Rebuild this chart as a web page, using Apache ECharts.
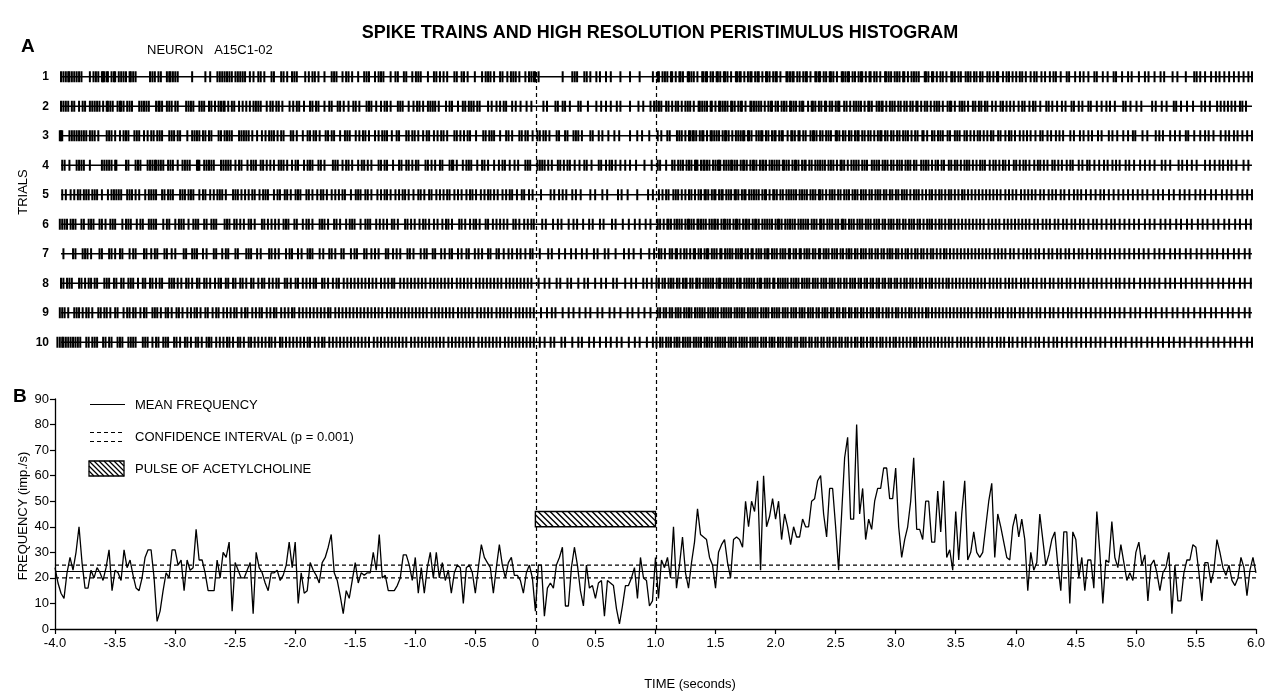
<!DOCTYPE html>
<html><head><meta charset="utf-8">
<script src="https://cdn.jsdelivr.net/npm/echarts/dist/echarts.min.js"></script>
<style>html,body{margin:0;padding:0;background:#fff}#c{width:1268px;height:692px}</style>
</head><body><div id="c"></div>
<script>
const FONT = "'Liberation Sans', Arial, Helvetica, sans-serif";

// ---- Panel A: spike trains (spike times in centiseconds) ----
const trialLabels = ['1','2','3','4','5','6','7','8','9','10'];
const rowLineRange = [-3.95, 5.95];

const trial1 = [-395,-393,-391,-389,-388,-386,-384,-382,-380,-378,-371,-368,-366,-364,-361,-360,-359,-357,-356,-353,-351,-350,-347,-345,-343,-341,-338,-337,-335,-333,-321,-319,-317,-314,-312,-307,-305,-304,-302,-300,-298,-286,-275,-271,-265,-263,-261,-259,-257,-255,-253,-250,-248,-246,-244,-242,-238,-235,-231,-229,-226,-220,-218,-212,-210,-207,-203,-201,-199,-192,-189,-186,-184,-181,-176,-170,-168,-166,-161,-158,-156,-153,-148,-143,-141,-139,-134,-131,-129,-127,-121,-117,-115,-110,-108,-103,-100,-98,-96,-90,-85,-83,-80,-77,-74,-68,-66,-62,-60,-57,-51,-45,-42,-40,-38,-35,-30,-28,-24,-21,-19,-17,-14,-9,-6,-4,-2,-1,
2,22,30,32,34,40,42,45,50,53,58,62,70,78,86,97,
101,102,105,107,109,112,113,116,119,120,122,126,127,129,131,134,138,139,141,142,145,147,150,151,153,156,157,159,162,166,167,169,170,173,176,178,179,182,184,185,188,191,192,194,197,199,200,203,208,209,211,213,214,217,219,222,224,225,228,232,233,235,236,239,241,244,245,247,250,254,255,257,259,260,263,265,268,270,271,274,277,278,281,283,286,290,291,293,295,298,300,302,305,306,309,312,314,316,318,323,324,326,329,330,333,336,338,341,345,346,348,351,353,357,359,361,364,366,369,371,375,377,380,383,384,388,391,393,396,399,
402,404,407,411,414,416,420,423,427,430,432,436,441,443,448,452,455,459,464,466,471,475,480,482,487,492,495,501,506,509,514,519,522,529,533,540,547,549,552,556,561,565,568,572,576,580,584,588,592,595];
const trial2 = [-395,-393,-391,-389,-386,-384,-380,-377,-375,-371,-369,-367,-365,-363,-360,-357,-356,-354,-352,-348,-346,-345,-343,-340,-338,-336,-330,-328,-326,-324,-322,-316,-314,-313,-311,-307,-305,-303,-300,-298,-291,-289,-287,-285,-280,-278,-276,-272,-270,-267,-264,-262,-260,-259,-256,-253,-251,-247,-244,-241,-238,-235,-233,-231,-229,-224,-221,-219,-216,-214,-211,-205,-202,-199,-197,-193,-188,-186,-183,-181,-176,-172,-170,-165,-163,-160,-156,-152,-150,-147,-141,-139,-137,-133,-129,-126,-124,-121,-115,-113,-111,-106,-102,-99,-97,-94,-90,-88,-86,-84,-81,-75,-72,-70,-65,-61,-59,-56,-54,-52,-49,-47,-40,-37,-33,-30,-27,-25,-20,-17,-13,-8,-4,
6,9,16,18,22,24,28,35,37,43,50,54,58,62,67,70,78,85,89,95,98,
100,102,104,108,110,113,116,118,121,124,126,128,131,135,136,138,140,142,145,146,149,152,153,155,157,159,162,163,165,168,170,171,174,178,179,181,183,185,187,190,193,195,196,199,201,204,206,208,211,212,214,216,219,221,222,226,229,230,232,235,237,240,241,244,246,249,251,252,256,258,261,264,266,268,270,273,276,277,279,283,285,287,288,291,294,296,298,301,303,306,308,311,313,316,317,320,323,325,328,331,333,335,338,342,344,345,348,352,354,356,359,363,365,368,370,373,375,379,382,386,388,391,394,397,
401,404,406,410,413,415,419,424,426,429,433,437,440,445,447,451,454,459,461,466,470,474,477,481,488,490,494,499,503,512,515,520,524,530,532,536,541,546,553,556,560,566,569,572,575,578,581,585,587,590];
const trial3 = [-396,-395,-394,-388,-386,-384,-382,-380,-378,-376,-374,-371,-369,-367,-364,-357,-355,-353,-350,-346,-343,-341,-339,-334,-332,-330,-326,-323,-320,-318,-315,-313,-311,-305,-303,-301,-298,-296,-290,-286,-284,-282,-280,-277,-275,-272,-270,-264,-262,-259,-257,-255,-253,-247,-245,-243,-241,-239,-236,-232,-228,-225,-222,-220,-218,-215,-212,-210,-204,-202,-199,-194,-190,-188,-185,-183,-180,-175,-173,-170,-168,-163,-159,-157,-155,-150,-147,-144,-142,-139,-134,-131,-128,-126,-124,-120,-116,-114,-108,-106,-103,-101,-98,-94,-91,-89,-85,-82,-79,-77,-74,-68,-66,-63,-60,-57,-55,-50,-44,-42,-39,-37,-35,-30,-25,-23,-20,-14,-12,-9,-7,-3,
1,3,6,8,11,17,19,24,26,31,33,35,38,45,47,52,55,60,65,69,78,84,88,94,
101,104,109,111,117,119,121,124,127,128,130,131,133,136,138,139,142,145,146,148,150,152,155,157,158,160,163,166,168,170,172,173,176,177,179,183,185,187,188,191,193,196,198,199,202,204,205,209,212,213,215,218,219,222,224,228,230,231,233,236,238,241,243,245,249,250,252,255,257,260,262,265,267,268,271,273,276,278,281,284,286,287,290,292,295,297,300,302,305,307,309,312,315,317,321,322,325,329,331,334,336,338,342,344,348,350,352,356,358,361,364,367,369,372,375,378,380,384,386,390,393,395,398,
402,405,408,411,415,419,421,425,428,432,435,438,444,447,452,455,459,462,467,470,476,479,483,488,492,496,498,504,508,515,518,521,527,531,535,540,542,547,552,556,559,563,569,573,576,580,583,587,591,595];
const trial4 = [-394,-392,-388,-382,-380,-378,-376,-371,-361,-359,-357,-355,-353,-350,-349,-341,-339,-333,-331,-329,-323,-321,-319,-317,-316,-314,-312,-310,-306,-304,-302,-298,-294,-292,-290,-288,-282,-281,-280,-276,-274,-272,-270,-268,-262,-260,-258,-256,-254,-250,-247,-245,-240,-237,-235,-233,-229,-227,-224,-221,-218,-214,-212,-210,-207,-203,-200,-198,-193,-190,-188,-186,-181,-179,-176,-169,-167,-165,-161,-158,-156,-153,-148,-145,-143,-140,-137,-131,-129,-126,-124,-119,-114,-112,-108,-106,-103,-100,-98,-92,-90,-87,-84,-80,-78,-72,-70,-69,-66,-61,-58,-56,-54,-49,-45,-43,-40,-35,-31,-28,-26,-22,-18,-15,-9,-7,-5,
1,3,5,7,10,13,18,20,23,26,28,32,36,40,42,46,52,54,58,61,63,66,70,74,78,83,90,96,
101,103,108,113,115,118,120,122,125,127,129,132,133,134,137,139,140,142,144,147,149,151,152,153,156,158,160,162,163,165,167,170,172,173,175,178,180,181,183,186,188,189,191,194,196,198,200,202,205,206,208,210,213,215,216,218,221,223,224,227,229,232,234,236,238,240,243,245,247,250,253,254,256,259,262,264,266,268,271,273,275,279,281,283,285,288,290,292,295,297,300,302,304,307,309,311,314,316,320,322,324,326,329,332,334,337,339,343,345,348,350,353,356,358,360,363,366,369,371,373,377,380,382,385,388,390,393,397,399,
402,405,407,410,414,417,419,422,425,429,431,434,437,441,444,446,451,454,458,460,464,468,472,475,479,482,485,490,493,497,502,506,510,514,520,523,527,534,537,541,545,549,556,560,564,568,571,575,578,582,588,592];
const trial5 = [-394,-391,-387,-384,-381,-379,-376,-374,-372,-369,-367,-365,-361,-356,-353,-351,-349,-347,-345,-340,-338,-336,-333,-330,-325,-322,-320,-318,-316,-311,-309,-306,-304,-302,-296,-294,-292,-289,-287,-285,-280,-277,-275,-271,-268,-265,-263,-261,-258,-252,-250,-248,-245,-242,-239,-236,-234,-230,-227,-225,-223,-218,-215,-213,-209,-207,-204,-200,-198,-196,-191,-189,-186,-182,-179,-177,-174,-170,-167,-164,-161,-159,-154,-150,-148,-146,-142,-140,-137,-132,-129,-126,-124,-121,-117,-114,-111,-109,-106,-102,-98,-96,-93,-89,-87,-83,-80,-77,-74,-72,-68,-65,-62,-58,-55,-53,-50,-46,-43,-40,-38,-35,-32,-28,-25,-22,-20,-16,-12,-10,-6,-3,
4,12,15,19,22,25,30,33,37,45,49,55,59,68,71,76,84,93,97,
102,105,108,110,114,116,118,121,124,127,129,132,135,137,140,141,143,146,148,149,152,154,155,158,160,162,165,166,168,171,173,174,177,179,181,183,185,188,190,191,194,197,198,200,203,205,208,210,212,214,216,219,221,223,225,228,230,232,235,236,238,241,244,246,248,251,253,256,258,260,263,265,267,270,272,274,277,279,282,284,286,289,291,294,296,299,301,304,306,308,311,314,316,318,321,324,327,329,332,335,337,340,343,345,348,351,354,356,359,362,365,368,371,374,377,380,383,386,390,393,396,399,
403,406,409,412,415,419,422,426,429,432,436,439,443,447,450,453,457,461,465,469,472,476,480,484,488,492,496,500,504,508,513,517,521,526,530,535,539,543,548,552,556,561,565,570,574,578,583,587,591,595];
const trial6 = [-396,-394,-392,-390,-387,-385,-383,-378,-376,-372,-370,-368,-363,-361,-358,-354,-352,-350,-344,-341,-339,-337,-332,-329,-327,-322,-320,-318,-316,-310,-307,-305,-300,-297,-295,-293,-289,-285,-283,-281,-276,-274,-270,-268,-266,-259,-257,-255,-251,-249,-246,-243,-239,-237,-234,-228,-226,-223,-220,-217,-214,-210,-208,-206,-201,-199,-194,-191,-189,-186,-180,-178,-176,-173,-168,-166,-163,-158,-155,-153,-151,-146,-142,-140,-138,-133,-130,-127,-124,-120,-118,-115,-109,-107,-104,-101,-97,-94,-92,-89,-85,-82,-78,-75,-73,-70,-64,-62,-59,-55,-52,-50,-47,-42,-40,-36,-33,-30,-27,-24,-19,-17,-14,-10,-7,-4,-2,
5,8,14,18,21,27,31,34,39,44,47,53,56,63,66,72,77,82,86,91,95,
101,103,106,109,110,112,115,117,119,121,124,126,127,129,131,134,135,137,139,141,144,146,148,149,151,154,156,157,159,161,164,166,167,169,172,174,175,177,180,182,183,185,188,190,192,194,196,199,201,202,204,207,209,211,213,215,218,220,222,224,226,229,231,233,236,237,239,242,244,246,249,251,254,255,257,260,262,264,267,269,271,274,276,278,281,283,285,288,290,293,295,297,300,302,305,307,310,312,314,317,319,322,325,327,329,332,335,337,340,343,345,348,351,354,357,360,363,366,369,372,376,379,382,385,389,392,395,398,
401,404,407,410,414,417,421,424,427,431,434,438,441,445,448,452,455,459,463,466,470,474,478,481,485,489,493,497,501,506,510,514,519,523,527,532,536,541,545,550,554,558,563,567,572,576,581,585,590,594];
const trial7 = [-393,-385,-383,-377,-375,-373,-370,-363,-361,-355,-353,-350,-346,-344,-338,-335,-333,-326,-324,-320,-317,-315,-309,-307,-303,-300,-293,-291,-286,-284,-282,-277,-274,-268,-266,-261,-258,-256,-250,-248,-241,-239,-237,-232,-229,-222,-220,-217,-214,-208,-205,-203,-198,-195,-190,-188,-186,-180,-177,-172,-170,-167,-162,-160,-154,-151,-149,-143,-141,-137,-134,-131,-125,-123,-119,-116,-113,-107,-105,-102,-96,-93,-91,-86,-84,-79,-76,-72,-70,-65,-62,-58,-56,-51,-48,-45,-40,-38,-33,-31,-27,-23,-20,-16,-13,-9,-5,-3,
3,10,13,19,24,29,33,38,42,48,51,57,60,66,73,77,81,87,94,98,
102,104,107,111,113,116,117,120,123,125,128,131,132,135,137,140,142,143,146,148,150,153,154,157,159,161,163,166,168,170,171,174,176,179,180,183,185,187,190,192,193,196,198,200,203,205,207,210,211,214,216,219,220,223,225,227,230,232,235,236,239,241,243,246,248,250,253,255,258,260,262,265,267,270,272,274,277,279,282,284,287,289,292,294,296,299,301,304,307,309,312,315,317,320,322,325,328,330,333,336,339,341,344,347,350,353,356,359,362,365,368,371,374,377,381,384,387,390,394,397,
401,405,408,411,415,418,422,426,429,433,436,440,443,447,451,454,458,462,466,469,473,477,481,485,489,493,497,501,505,509,514,518,522,527,531,535,540,544,549,553,558,562,566,571,575,580,584,589,593];
const trial8 = [-395,-393,-390,-388,-386,-380,-378,-375,-372,-370,-367,-365,-359,-357,-355,-351,-349,-345,-343,-339,-337,-335,-331,-327,-325,-321,-319,-316,-313,-311,-305,-303,-301,-298,-295,-291,-289,-286,-282,-280,-276,-274,-271,-267,-264,-262,-258,-256,-252,-250,-246,-244,-241,-237,-235,-231,-228,-226,-222,-219,-216,-214,-209,-207,-204,-200,-198,-194,-191,-188,-185,-183,-178,-176,-173,-169,-166,-164,-160,-157,-154,-151,-148,-145,-142,-139,-136,-133,-129,-126,-123,-120,-118,-113,-110,-107,-104,-101,-98,-95,-92,-88,-85,-82,-79,-76,-73,-70,-66,-63,-60,-57,-54,-50,-47,-44,-41,-38,-35,-32,-29,-25,-22,-19,-16,-13,-10,-7,-4,
2,7,11,17,20,26,29,35,40,43,49,54,58,64,67,74,79,83,89,92,96,
100,102,105,107,110,112,114,117,119,122,124,125,128,130,133,134,136,139,141,143,145,147,150,152,153,156,158,160,162,164,167,169,170,173,175,177,179,181,184,186,187,190,192,194,197,198,201,203,205,207,209,212,214,216,218,221,223,225,227,230,232,234,237,239,241,244,246,248,251,253,256,258,261,263,265,268,270,273,275,278,280,283,285,288,290,293,295,298,300,303,306,308,311,313,316,319,321,324,327,329,332,335,338,341,343,346,349,352,355,358,361,364,367,370,373,377,380,383,386,390,393,396,399,
403,406,409,413,416,420,423,427,430,434,437,441,444,448,452,455,459,463,466,470,474,478,482,485,489,493,497,502,506,510,514,518,523,527,531,536,540,545,549,553,558,562,567,571,576,580,585,589,594];
const trial9 = [-396,-394,-392,-389,-384,-382,-380,-377,-374,-372,-369,-364,-362,-359,-357,-354,-350,-348,-343,-340,-338,-335,-333,-329,-326,-324,-319,-317,-315,-312,-308,-306,-303,-299,-297,-294,-290,-287,-284,-282,-279,-275,-273,-269,-266,-264,-260,-257,-254,-251,-249,-245,-242,-240,-236,-233,-230,-228,-224,-221,-218,-216,-212,-209,-206,-203,-201,-197,-194,-191,-188,-185,-182,-179,-176,-173,-171,-167,-164,-161,-158,-155,-152,-149,-146,-143,-140,-137,-134,-131,-128,-124,-121,-118,-115,-112,-109,-106,-103,-100,-97,-94,-91,-87,-84,-81,-78,-75,-72,-69,-65,-62,-59,-56,-53,-49,-46,-43,-40,-37,-33,-30,-27,-24,-21,-17,-14,-11,-8,-5,-2,
4,9,13,16,22,27,31,36,41,45,51,55,61,65,70,76,80,85,90,95,
101,103,106,108,111,113,116,118,120,123,125,127,129,132,134,136,138,140,143,145,147,149,151,154,156,158,160,162,165,167,169,171,173,176,178,180,182,184,187,189,191,193,196,198,200,202,205,207,209,212,214,216,219,221,223,226,228,230,233,235,238,240,242,245,247,250,252,255,257,260,262,265,267,270,272,275,278,280,283,285,288,291,293,296,299,301,304,307,310,312,315,318,321,324,326,329,332,335,338,341,344,347,350,353,356,359,362,366,369,372,375,378,382,385,388,392,395,398,
402,405,409,412,416,419,423,427,430,434,438,442,445,449,453,457,461,465,469,473,477,481,485,489,494,498,502,507,511,515,520,524,529,533,538,542,547,552,556,561,565,570,575,579,584,589,593];
const trial10 = [-398,-396,-394,-393,-391,-389,-387,-385,-383,-381,-379,-374,-372,-369,-367,-365,-360,-358,-355,-353,-348,-346,-344,-339,-337,-335,-333,-327,-325,-323,-319,-316,-314,-310,-308,-306,-301,-299,-296,-292,-290,-287,-283,-281,-278,-274,-272,-270,-266,-263,-260,-257,-255,-252,-248,-246,-243,-239,-237,-234,-231,-228,-225,-222,-220,-217,-213,-211,-208,-205,-202,-199,-196,-193,-190,-188,-184,-181,-178,-176,-172,-169,-166,-163,-160,-157,-154,-151,-148,-145,-142,-139,-135,-132,-129,-126,-123,-120,-117,-114,-111,-108,-104,-101,-98,-95,-92,-89,-86,-83,-80,-77,-73,-70,-67,-64,-61,-58,-55,-52,-48,-45,-42,-39,-36,-33,-30,-26,-23,-20,-17,-14,-11,-8,-5,-2,
3,7,12,15,21,24,30,35,38,44,48,53,58,62,67,71,77,82,86,92,97,
100,103,105,108,110,112,115,117,119,122,124,126,128,131,133,135,137,140,142,144,146,149,151,153,155,157,160,162,164,166,169,171,173,175,178,180,182,184,187,189,191,194,196,198,201,203,205,208,210,212,215,217,220,222,224,227,229,232,234,237,239,242,244,247,249,252,254,257,259,262,265,267,270,272,275,278,280,283,286,288,291,294,297,299,302,305,308,311,314,316,319,322,325,328,331,334,337,340,343,346,350,353,356,359,362,366,369,372,376,379,383,386,389,393,396,
400,404,407,411,415,418,422,426,430,433,437,441,445,449,453,457,461,465,469,473,478,482,486,490,495,499,503,508,512,517,521,526,530,535,539,544,549,553,558,563,567,572,577,581,586,591,595];
const trials = [trial1, trial2, trial3, trial4, trial5, trial6, trial7, trial8, trial9, trial10];

// ---- Panel B: peristimulus histogram (imp./s), bins of 25 ms from -4.0 s ----
const binStart = -4.0;
const binWidth = 0.025;
const frequency = [
24,18,14,12,22,28,23,30,40,26,16,16,23,20,24,22,19,24,31,15,23,22,19,31,24,27,21,16,15,20,28,31,31,20,3,7,15,22,20,31,
31,25,27,15,27,23,24,39,27,27,22,15,15,15,27,20,30,28,34,7,
26,23,20,20,23,26,6,
30,24,22,18,15,22,22,23,19,21,25,34,24,34,10,22,14,15,26,23,21,18,26,28,32,37,22,19,13,6,15,12,19,
26,18,22,21,22,22,30,23,37,20,21,15,15,15,17,20,29,29,25,19,28,14,24,14,24,30,20,30,20,26,19,23,14,22,
25,24,10,24,25,22,14,24,33,28,26,24,14,24,33,25,20,26,28,21,21,19,14,22,25,20,7,25,25,5,
16,18,16,25,28,32,9,9,24,32,25,15,9,25,16,17,12,18,19,5,19,18,17,8,2,9,17,17,20,24,12,28,20,19,9,11,
28,12,27,24,28,20,40,16,25,36,22,16,26,34,47,37,36,35,28,25,16,30,33,35,26,20,35,36,35,32,
50,40,50,46,58,23,60,40,44,51,43,50,35,45,40,33,40,36,36,43,40,40,50,51,58,60,45,36,55,55,40,23,45,67,75,
43,43,80,45,55,35,43,39,50,55,55,63,63,51,51,63,40,28,35,40,50,67,39,39,35,50,50,34,34,54,
38,58,28,31,23,46,27,45,58,27,30,38,30,28,30,40,50,57,28,45,40,34,28,27,40,45,36,43,35,15,
30,23,26,45,35,25,29,35,38,25,15,38,38,10,38,35,20,28,15,27,27,16,46,30,10,27,26,42,28,24,
33,26,19,22,19,30,34,25,29,11,25,27,22,15,22,24,30,6,25,11,11,22,27,27,33,32,22,11,26,26,
18,23,35,30,24,21,25,19,17,20,28,24,13,23,28,22];
const meanFrequency = 22.5;
const confidenceUpper = 25;
const confidenceLower = 20;
const timeRange = [-4, 6];
const pulse = [0, 1, 40, 46];          // start s, end s, low, high
const stimulusMarks = [0, 1];

// ---- build ----
function hatch(x0, y0, x1, y1, s, w) {
  const out = [];
  for (let c = x0 - y1; c <= x1 - y0; c += s) {
    const ya = Math.max(y0, x0 - c), yb = Math.min(y1, x1 - c);
    if (yb > ya) out.push({type: 'line', shape: {x1: c + ya, y1: ya, x2: c + yb, y2: yb}, style: {stroke: '#000', lineWidth: w}});
  }
  return out;
}

const spikeData = [];
trials.forEach((arr, k) => arr.forEach(cs => spikeData.push([cs / 100, k])));
const histData = frequency.map((v, i) => [binStart + i * binWidth, v]);

const rowSeries = trials.map((arr, k) => ({
  type: 'line', xAxisIndex: 0, yAxisIndex: 0, silent: true, symbol: 'none',
  lineStyle: {color: '#000', width: 1.3},
  data: [[rowLineRange[0], k], [rowLineRange[1], k]]
}));

const textStyle = (size, weight) => ({fill: '#000', font: (weight || 'normal') + ' ' + size + 'px ' + FONT});

const legendGraphics = [
  {type: 'line', shape: {x1: 90, y1: 404.5, x2: 125, y2: 404.5}, style: {stroke: '#000', lineWidth: 1.2}},
  {type: 'text', x: 135, y: 405, style: Object.assign({text: 'MEAN FREQUENCY', textVerticalAlign: 'middle', verticalAlign: 'middle'}, textStyle(13))},
  {type: 'line', shape: {x1: 90, y1: 432.5, x2: 123, y2: 432.5}, style: {stroke: '#000', lineWidth: 1.2, lineDash: [4, 3]}},
  {type: 'line', shape: {x1: 90, y1: 441.5, x2: 123, y2: 441.5}, style: {stroke: '#000', lineWidth: 1.2, lineDash: [4, 3]}},
  {type: 'text', x: 135, y: 437, style: Object.assign({text: 'CONFIDENCE INTERVAL (p = 0.001)', textVerticalAlign: 'middle', verticalAlign: 'middle'}, textStyle(13))},
  {type: 'group', children: [
    {type: 'rect', shape: {x: 89, y: 461, width: 35, height: 15}, style: {fill: '#fff'}}
  ].concat(hatch(89, 461, 124, 476, 5, 1.3)).concat([
    {type: 'rect', shape: {x: 89, y: 461, width: 35, height: 15}, style: {fill: 'none', stroke: '#000', lineWidth: 1.3}}
  ])},
  {type: 'text', x: 135, y: 469, style: Object.assign({text: 'PULSE OF ACETYLCHOLINE', textVerticalAlign: 'middle', verticalAlign: 'middle'}, textStyle(13))}
];

const option = {
  animation: false,
  backgroundColor: '#fff',
  textStyle: {fontFamily: FONT, color: '#000'},
  graphic: [
    {type: 'text', x: 660, y: 33, style: Object.assign({text: 'SPIKE TRAINS AND HIGH RESOLUTION PERISTIMULUS HISTOGRAM', textAlign: 'center', align: 'center', textVerticalAlign: 'middle', verticalAlign: 'middle'}, textStyle(18, 'bold'))},
    {type: 'text', x: 21, y: 47, style: Object.assign({text: 'A', textVerticalAlign: 'middle', verticalAlign: 'middle'}, textStyle(19, 'bold'))},
    {type: 'text', x: 147, y: 50, style: Object.assign({text: 'NEURON   A15C1-02', textVerticalAlign: 'middle', verticalAlign: 'middle'}, textStyle(13))},
    {type: 'text', x: 23, y: 192, rotation: Math.PI / 2, style: Object.assign({text: 'TRIALS', textAlign: 'center', align: 'center', textVerticalAlign: 'middle', verticalAlign: 'middle'}, textStyle(13))},
    {type: 'text', x: 13, y: 397, style: Object.assign({text: 'B', textVerticalAlign: 'middle', verticalAlign: 'middle'}, textStyle(19, 'bold'))},
    {type: 'text', x: 23, y: 516, rotation: Math.PI / 2, style: Object.assign({text: 'FREQUENCY (imp./s)', textAlign: 'center', align: 'center', textVerticalAlign: 'middle', verticalAlign: 'middle'}, textStyle(13))},
    {type: 'text', x: 690, y: 684, style: Object.assign({text: 'TIME (seconds)', textAlign: 'center', align: 'center', textVerticalAlign: 'middle', verticalAlign: 'middle'}, textStyle(13))}
  ].concat(legendGraphics),
  grid: [
    {left: 55, right: 10, top: 62, bottom: 335},
    {left: 55, right: 10, top: 399, bottom: 63},
    {left: 55, right: 10, top: 70, bottom: 63}
  ],
  xAxis: [
    {gridIndex: 0, type: 'value', min: timeRange[0], max: timeRange[1], show: false},
    {gridIndex: 1, type: 'value', min: timeRange[0], max: timeRange[1], interval: 0.5,
     axisLine: {show: true, onZero: false, lineStyle: {color: '#000', width: 1.3}},
     axisTick: {show: true, length: 5, lineStyle: {color: '#000', width: 1.2}},
     axisLabel: {color: '#000', fontSize: 13, fontFamily: FONT, margin: 8, formatter: v => v === 0 ? '0' : v.toFixed(1)},
     splitLine: {show: false}},
    {gridIndex: 2, type: 'value', min: timeRange[0], max: timeRange[1], show: false}
  ],
  yAxis: [
    {gridIndex: 0, type: 'category', data: trialLabels, inverse: true,
     axisLine: {show: false}, axisTick: {show: false},
     axisLabel: {color: '#000', fontSize: 12, fontWeight: 'bold', fontFamily: FONT, margin: 6}},
    {gridIndex: 1, type: 'value', min: 0, max: 90, interval: 10,
     axisLine: {show: true, onZero: false, lineStyle: {color: '#000', width: 1.3}},
     axisTick: {show: true, length: 5, lineStyle: {color: '#000', width: 1.2}},
     axisLabel: {color: '#000', fontSize: 13, fontFamily: FONT, margin: 6},
     splitLine: {show: false}},
    {gridIndex: 2, type: 'value', min: 0, max: 1, show: false}
  ],
  series: rowSeries.concat([
    {type: 'scatter', xAxisIndex: 0, yAxisIndex: 0, silent: true, symbol: 'rect', symbolSize: [2, 11],
     itemStyle: {color: '#000', opacity: 1}, progressive: 0, data: spikeData, z: 3},
    {type: 'line', xAxisIndex: 2, yAxisIndex: 2, silent: true, symbol: 'none', data: [[timeRange[0], 0]],
     markLine: {silent: true, symbol: ['none', 'none'], label: {show: false},
       lineStyle: {color: '#000', type: [4, 3], width: 1.2},
       data: stimulusMarks.map(v => ({xAxis: v}))}},
    {type: 'line', xAxisIndex: 1, yAxisIndex: 1, silent: true, symbol: 'none',
     lineStyle: {color: '#000', width: 1.1},
     data: [[timeRange[0], meanFrequency], [timeRange[1], meanFrequency]]},
    {type: 'line', xAxisIndex: 1, yAxisIndex: 1, silent: true, symbol: 'none',
     lineStyle: {color: '#000', width: 1.1, type: [4, 3]},
     data: [[timeRange[0], confidenceUpper], [timeRange[1], confidenceUpper]]},
    {type: 'line', xAxisIndex: 1, yAxisIndex: 1, silent: true, symbol: 'none',
     lineStyle: {color: '#000', width: 1.1, type: [4, 3]},
     data: [[timeRange[0], confidenceLower], [timeRange[1], confidenceLower]]},
    {type: 'line', xAxisIndex: 1, yAxisIndex: 1, silent: true, symbol: 'none',
     lineStyle: {color: '#000', width: 1.3}, data: histData, z: 4},
    {type: 'custom', xAxisIndex: 1, yAxisIndex: 1, silent: true, clip: false, z: 5,
     data: [pulse], encode: {x: [0, 1], y: [2, 3]},
     renderItem: function (params, api) {
       const p0 = api.coord([api.value(0), api.value(3)]);
       const p1 = api.coord([api.value(1), api.value(2)]);
       const x0 = p0[0], y0 = p0[1], x1 = p1[0], y1 = p1[1];
       return {type: 'group', children: [
         {type: 'rect', shape: {x: x0, y: y0, width: x1 - x0, height: y1 - y0}, style: {fill: '#fff'}}
       ].concat(hatch(x0, y0, x1, y1, 6, 1.4)).concat([
         {type: 'rect', shape: {x: x0, y: y0, width: x1 - x0, height: y1 - y0}, style: {fill: 'none', stroke: '#000', lineWidth: 1.4}}
       ])};
     }}
  ])
};

const chart = echarts.init(document.getElementById('c'), null, {renderer: 'canvas'});
chart.setOption(option);
</script>
</body></html>
